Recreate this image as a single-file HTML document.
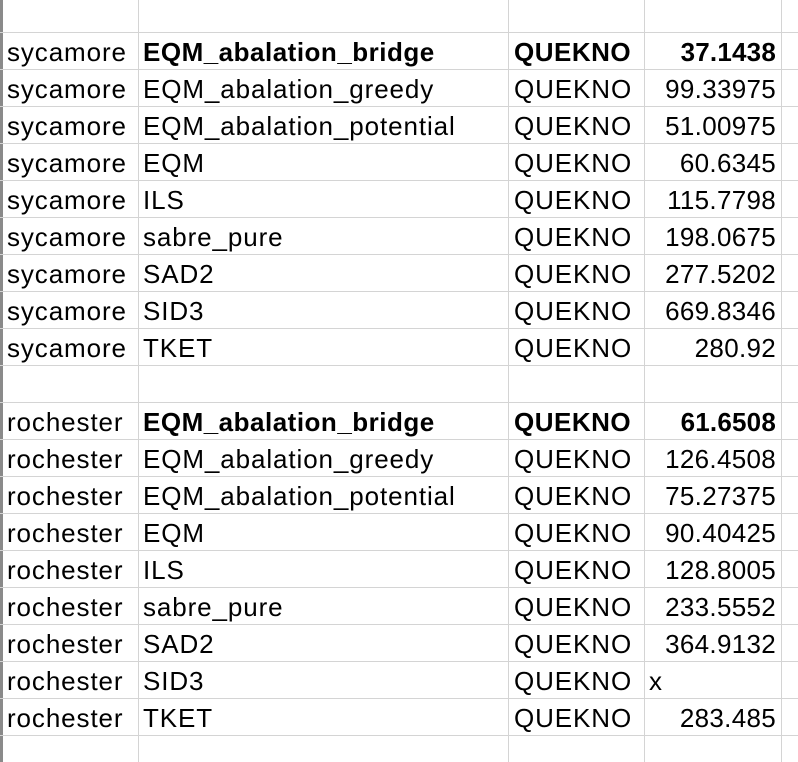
<!DOCTYPE html>
<html><head><meta charset="utf-8"><style>
body{margin:0;width:798px;height:762px;background:#fff;overflow:hidden;position:relative;font-family:"Liberation Sans","Noto Sans CJK SC",sans-serif;font-size:26px;letter-spacing:0.9px;color:#000}
.vl{position:absolute;top:0;height:762px;width:1px;background:#d4d4d4}
.hl{position:absolute;left:0;width:798px;height:1px;background:#d4d4d4}
.c{position:absolute;height:37px;line-height:40px;white-space:nowrap}
.b{font-weight:bold;letter-spacing:0.5px}
.v{letter-spacing:0.3px}
.v.b{letter-spacing:0.2px}
</style></head><body>
<div style="position:absolute;left:0;top:0;width:3px;height:762px;background:#8a8a8a"></div>
<div class="vl" style="left:138px"></div>
<div class="vl" style="left:508px"></div>
<div class="vl" style="left:644px"></div>
<div class="vl" style="left:781px"></div>
<script>
const devices=["sycamore","sycamore","sycamore","sycamore","sycamore","sycamore","sycamore","sycamore","sycamore",null,"rochester","rochester","rochester","rochester","rochester","rochester","rochester","rochester","rochester"];
const methods=["EQM_abalation_bridge","EQM_abalation_greedy","EQM_abalation_potential","EQM","ILS","sabre_pure","SAD2","SID3","TKET",null,"EQM_abalation_bridge","EQM_abalation_greedy","EQM_abalation_potential","EQM","ILS","sabre_pure","SAD2","SID3","TKET"];
const values=["37.1438","99.33975","51.00975","60.6345","115.7798","198.0675","277.5202","669.8346","280.92",null,"61.6508","126.4508","75.27375","90.40425","128.8005","233.5552","364.9132","x","283.485"];
const body=document.body;
for(let k=0;k<20;k++){const l=document.createElement('div');l.className='hl';l.style.top=(32+37*k)+'px';


body.appendChild(l);}
function cell(txt,left,top,cls,right,name){const d=document.createElement('div');d.className='c '+(cls||'');d.textContent=txt;d.style.top=top+'px';
if(right){d.style.right=(798-right)+'px';}else d.style.left=left+'px';


body.appendChild(d);}
for(let i=0;i<devices.length;i++){if(!devices[i])continue;const top=32+37*i;const b=(i===0||i===10)?'b':'';
cell(devices[i],7,top,'','', 'device-cell');
cell(methods[i],143,top,b,'','method-cell');
cell('QUEKNO',514,top,b,'','tool-cell');
if(values[i]==='x')cell('x',649,top,'','','value-cell');else cell(values[i],0,top,'v '+b,776,'value-cell');}
</script>
</body></html>
